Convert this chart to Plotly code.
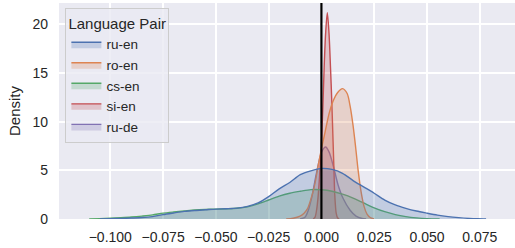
import plotly.graph_objects as go

# ---- data ----
pairs = ["ru-en", "ro-en", "cs-en", "si-en", "ru-de"]
colors = ["#4C72B0", "#DD8452", "#55A868", "#C44E52", "#8172B3"]

ru_en_x = [-0.105, -0.100, -0.095, -0.090, -0.085, -0.080, -0.075, -0.070, -0.065, -0.060,
           -0.055, -0.050, -0.045, -0.040, -0.035, -0.030, -0.025, -0.020, -0.015, -0.010,
           -0.005, 0.000, 0.005, 0.010, 0.015, 0.020, 0.025, 0.030, 0.035, 0.040,
           0.045, 0.050, 0.055, 0.060, 0.065, 0.070, 0.074, 0.078]
ru_en_y = [0.0, 0.03, 0.06, 0.10, 0.15, 0.25, 0.45, 0.62, 0.78, 0.88,
           0.95, 1.02, 1.06, 1.12, 1.30, 1.65, 2.30, 3.10, 3.75, 4.55,
           4.95, 5.20, 5.10, 4.70, 3.95, 3.30, 2.65, 1.95, 1.45, 1.10,
           0.82, 0.60, 0.40, 0.25, 0.14, 0.06, 0.02, 0.0]

cs_en_x = [-0.110, -0.105, -0.100, -0.095, -0.090, -0.085, -0.080, -0.075, -0.070, -0.065,
           -0.060, -0.055, -0.050, -0.045, -0.040, -0.035, -0.030, -0.025, -0.020, -0.015,
           -0.010, -0.005, 0.000, 0.005, 0.010, 0.015, 0.020, 0.025, 0.030, 0.035,
           0.040, 0.045, 0.050, 0.056]
cs_en_y = [0.0, 0.03, 0.07, 0.13, 0.20, 0.30, 0.42, 0.60, 0.72, 0.82,
           0.92, 0.98, 1.02, 1.05, 1.10, 1.25, 1.55, 1.95, 2.35, 2.65,
           2.85, 3.02, 3.00, 2.85, 2.55, 2.15, 1.65, 1.15, 0.75, 0.45,
           0.25, 0.12, 0.04, 0.0]

ro_en_x = [-0.0167, -0.0134, -0.0101, -0.0082, -0.0065, -0.0049, -0.0032, -0.0016, 0.0001, 0.0018,
           0.0036, 0.0055, 0.0077, 0.0100, 0.0122, 0.0136, 0.0150, 0.0162, 0.0174, 0.0188,
           0.0202, 0.0216, 0.0231, 0.0249]
ro_en_y = [0.0, 0.08, 0.30, 0.60, 1.10, 2.10, 3.50, 5.40, 7.30, 9.00,
           10.8, 12.1, 13.0, 13.4, 12.9, 11.6, 9.6, 7.4, 5.0, 2.8,
           1.3, 0.5, 0.15, 0.0]

si_en_x = [-0.0039, -0.0030, -0.0023, -0.0016, -0.0009, -0.0001, 0.0006, 0.0013, 0.0020, 0.0028,
           0.0036, 0.0043, 0.0049, 0.0054, 0.0059, 0.0063, 0.0070, 0.0077, 0.0084]
si_en_y = [0.0, 0.2, 0.9, 2.2, 4.3, 7.3, 11.0, 15.6, 19.1, 21.2,
           19.1, 15.6, 12.2, 8.8, 5.4, 2.6, 0.6, 0.1, 0.0]

ru_de_x = [-0.0101, -0.0087, -0.0077, -0.0062, -0.0045, -0.0030, -0.0014, 0.0001, 0.0020, 0.0036,
           0.0057, 0.0079, 0.0103, 0.0136, 0.0164, 0.0193, 0.0212]
ru_de_y = [0.0, 0.08, 0.2, 0.9, 2.3, 4.0, 5.7, 6.9, 7.4, 6.9,
           5.4, 3.5, 2.1, 0.9, 0.3, 0.05, 0.0]

x_ticks = [-0.100, -0.075, -0.050, -0.025, 0.000, 0.025, 0.050, 0.075]
x_tick_text = ["\u22120.100", "\u22120.075", "\u22120.050", "\u22120.025", "0.000", "0.025", "0.050", "0.075"]
y_ticks = [0, 5, 10, 15, 20]

series = [(ru_en_x, ru_en_y), (ro_en_x, ro_en_y), (cs_en_x, cs_en_y), (si_en_x, si_en_y), (ru_de_x, ru_de_y)]


def rgba(hexc, a):
    h = hexc.lstrip("#")
    r, g, b = int(h[0:2], 16), int(h[2:4], 16), int(h[4:6], 16)
    return f"rgba({r},{g},{b},{a})"


fig = go.Figure()
# seaborn draws hue levels in reverse order
for i in reversed(range(len(pairs))):
    xs, ys = series[i]
    fig.add_trace(go.Scatter(
        x=xs, y=ys, name=pairs[i], mode="lines",
        line=dict(color=colors[i], width=1.4, shape="spline", smoothing=0.8),
        fill="tozeroy", fillcolor=rgba(colors[i], 0.25),
        legendrank=i + 1,
    ))

fig.add_shape(type="line", x0=0, x1=0, y0=0, y1=1, xref="x", yref="y domain",
              line=dict(color="black", width=2.2))

font_fam = "Liberation Sans, Arial, sans-serif"
fig.update_layout(
    width=515, height=248,
    margin=dict(l=59, r=0, t=3, b=29),
    paper_bgcolor="white", plot_bgcolor="#EAEAF2",
    font=dict(family=font_fam, size=14, color="#262626"),
    showlegend=True,
    legend=dict(
        title=dict(text="Language Pair", font=dict(size=15), side="top"),
        x=0.014, y=0.975, xanchor="left", yanchor="top",
        bgcolor="rgba(234,234,242,0.8)", bordercolor="#CCCCCC", borderwidth=1,
        font=dict(size=13.5), traceorder="normal", itemwidth=30,
    ),
    xaxis=dict(range=[-0.1243, 0.0917], tickvals=x_ticks, ticktext=x_tick_text,
               showgrid=True, gridcolor="white", gridwidth=1.5, zeroline=False,
               showline=False, ticks="", ticklabelstandoff=8),
    yaxis=dict(range=[0, 22.2], tickvals=y_ticks, showgrid=True, gridcolor="white",
               gridwidth=1.5, zeroline=False, showline=False, ticks="",
               ticklabelstandoff=10,
               title=dict(text="Density", font=dict(size=15), standoff=8)),
)

fig.write_html("out.html", config={"displayModeBar": False},
               post_script="document.body.style.margin='0';document.body.style.overflow='hidden';")
